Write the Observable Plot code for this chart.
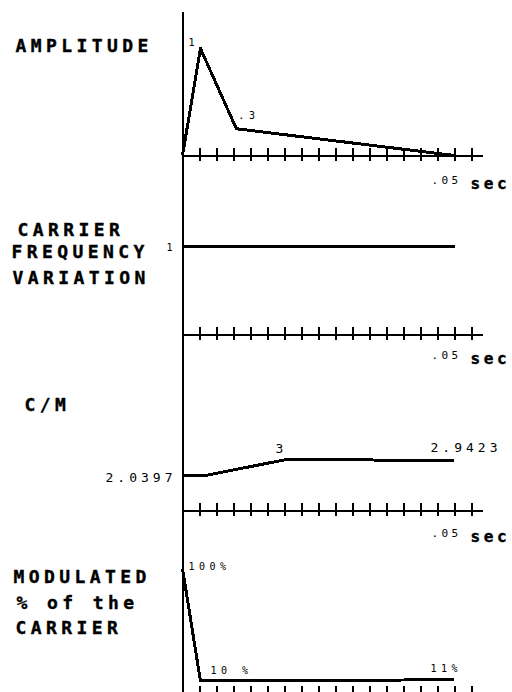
<!DOCTYPE html>
<html><head><meta charset="utf-8">
<script src="https://cdn.jsdelivr.net/npm/d3@7"></script>
<script src="https://cdn.jsdelivr.net/npm/@observablehq/plot@0.6"></script>
<style>
html,body{margin:0;padding:0;background:#fff;overflow:hidden;}
#chart svg{display:block;}
g[font-size="18"],g[font-size="18px"]{letter-spacing:4.4px;}
g[font-size="16"],g[font-size="16px"]{letter-spacing:3.6px;}
g[font-size="13"],g[font-size="13px"]{letter-spacing:4px;}
g[font-size="11"],g[font-size="11px"]{letter-spacing:3.4px;}
g[font-size="10"],g[font-size="10px"]{letter-spacing:4.5px;}
</style></head><body><div id="chart"></div>
<script>
// x axis (seconds)
const xTicks = [0.003125, 0.00625, 0.009375, 0.0125, 0.015625, 0.01875, 0.021875, 0.025, 0.028125,
  0.03125, 0.034375, 0.0375, 0.040625, 0.04375, 0.046875, 0.05, 0.053125];
const xAxisEnd = 0.0553;
const xEndValue = 0.05;
const xEndLabel = ".05";
const xUnit = "sec";

// AMPLITUDE envelope
const ampTime = [0, 0.0033, 0.0099, 0.05];
const ampValue = [0, 1, 0.25, 0];
const ampLabels = ["1", ".3"];
const ampLabelIndex = [1, 2];

// CARRIER FREQUENCY VARIATION
const cfTime = [0, 0.05];
const cfValue = [1, 1];
const cfLabels = ["1"];
const cfLabelIndex = [0];

// C/M
const cmTime = [0, 0.0039, 0.0191, 0.05];
const cmValue = [2.0397, 2.0397, 3, 2.9423];
const cmLabels = ["2.0397", "3", "2.9423"];
const cmLabelIndex = [0, 2, 3];

// MODULATED % of the CARRIER
const modTime = [0, 0.0033, 0.05];
const modValue = [100, 10, 11];
const modLabels = ["100%", "10 %", "11%"];
const modLabelIndex = [0, 1, 2];

const titleAmp = ["AMPLITUDE"];
const titleCf = ["CARRIER", "FREQUENCY", "VARIATION"];
const titleCm = ["C/M"];
const titleMod = ["MODULATED", "% of the", "CARRIER"];

const ML = 182, MR = 58, W = 512;

function titleMark(text, x, baseline, marginTop) {
  return Plot.text([text], {text: d => d, frameAnchor: "top-left", textAnchor: "start", lineAnchor: "bottom",
    dx: x - ML, dy: baseline - marginTop, fontSize: 18, fontWeight: "bold", fill: "black",
    stroke: "black", strokeWidth: 0.4});
}
function labelMark(time, value, idx, text, dx, dy, fontSize) {
  return Plot.text([idx], {x: i => time[i], y: i => value[i], text: () => text, textAnchor: "start",
    lineAnchor: "bottom", dx, dy, fontSize, fill: "black"});
}
function panel(o) {
  const marks = [
    Plot.ruleX([0], {insetTop: o.axisTop - o.marginTop, insetBottom: -o.marginBottom - 4, stroke: "black", strokeWidth: 2, shapeRendering: "crispEdges"}),
    Plot.ruleY([0], {x1: 0, x2: xAxisEnd, stroke: "black", strokeWidth: 2, shapeRendering: "crispEdges"}),
    Plot.ruleX(xTicks, {x: d => d, y1: 0, y2: 0, insetTop: -7, insetBottom: -6, stroke: "black", strokeWidth: 2, shapeRendering: "crispEdges"}),
    Plot.line(o.time.map((t, i) => i), {x: i => o.time[i], y: i => o.value[i], stroke: "black", strokeWidth: 3,
      strokeLinejoin: "round", strokeLinecap: "butt", shapeRendering: "crispEdges"}),
    ...o.titles.map((t, i) => titleMark(t, o.titleX[i], o.titleY[i], o.marginTop)),
    ...o.labels.map((t, i) => labelMark(o.time, o.value, o.labelIndex[i], t, o.labelDx[i], o.labelDy[i], o.labelSize[i]))
  ];
  if (o.endLabel) {
    marks.push(Plot.text([xEndValue], {x: d => d, y: () => 0, text: () => xEndLabel, textAnchor: "start", lineAnchor: "bottom",
      dx: -23, dy: o.endDy, fontSize: 11, fill: "black"}));
    marks.push(Plot.text([xEndValue], {x: d => d, y: () => 0, text: () => xUnit, textAnchor: "start", lineAnchor: "bottom",
      dx: 16, dy: o.unitDy, fontSize: 16, fontWeight: "bold", fill: "black", stroke: "black", strokeWidth: 0.4}));
  }
  return Plot.plot({
    width: W, height: o.height, marginLeft: ML, marginRight: MR, marginTop: o.marginTop, marginBottom: o.marginBottom,
    x: {domain: [0, 0.05], axis: null},
    y: {domain: o.yDomain, axis: null},
    style: {background: "white", fontFamily: "'DejaVu Sans Mono', monospace", overflow: "visible", color: "black"},
    marks
  });
}

const chart = document.getElementById("chart");
chart.append(panel({
  height: 190, marginTop: 48, marginBottom: 35, axisTop: 12, yDomain: [0, 1],
  time: ampTime, value: ampValue,
  titles: titleAmp, titleX: [15], titleY: [51],
  labels: ampLabels, labelIndex: ampLabelIndex, labelDx: [-12, 2], labelDy: [-3, -10], labelSize: [10, 10],
  endLabel: true, endDy: 28, unitDy: 33
}));
chart.append(panel({
  height: 175, marginTop: 56, marginBottom: 31, axisTop: 0, yDomain: [0, 1],
  time: cfTime, value: cfValue,
  titles: titleCf, titleX: [17, 11, 12], titleY: [45, 67, 93],
  labels: cfLabels, labelIndex: cfLabelIndex, labelDx: [-16], labelDy: [4], labelSize: [10],
  endLabel: true, endDy: 24, unitDy: 29
}));
chart.append(panel({
  height: 180, marginTop: 94, marginBottom: 35, axisTop: 0, yDomain: [0, 3],
  time: cmTime, value: cmValue,
  titles: titleCm, titleX: [24], titleY: [45],
  labels: cmLabels, labelIndex: cmLabelIndex, labelDx: [-77, -11, -24], labelDy: [6, -7, -8], labelSize: [13, 13, 13],
  endLabel: true, endDy: 26, unitDy: 31
}));
chart.append(panel({
  height: 150, marginTop: 23, marginBottom: 2, axisTop: 0, yDomain: [0, 100],
  time: modTime, value: modValue,
  titles: titleMod, titleX: [13, 16, 15], titleY: [37, 63, 88],
  labels: modLabels, labelIndex: modLabelIndex, labelDx: [6, 10, -24], labelDy: [1, -7, -8], labelSize: [10, 10, 10],
  endLabel: false
}));
</script>
</body></html>
